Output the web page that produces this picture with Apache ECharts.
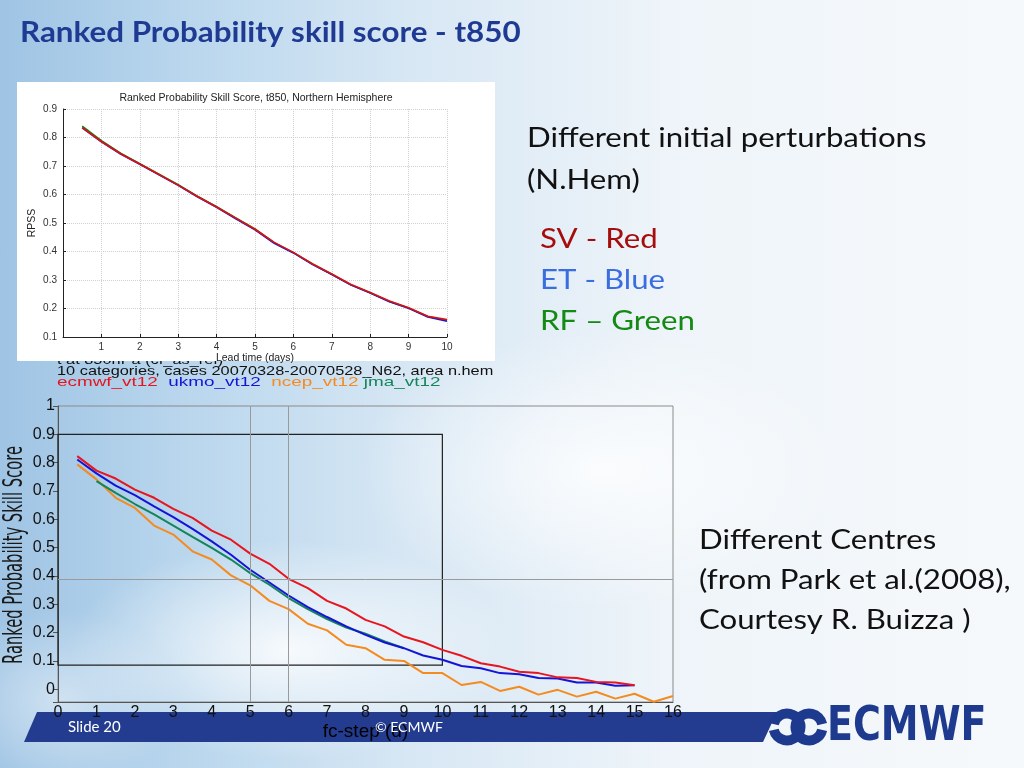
<!DOCTYPE html>
<html><head><meta charset="utf-8">
<script src="https://cdn.jsdelivr.net/npm/echarts@6/dist/echarts.min.js"></script>
<style>
html,body{margin:0;padding:0;width:1024px;height:768px;overflow:hidden;}
#c{width:1024px;height:768px;background:
 radial-gradient(ellipse 220px 110px at 290px 650px, rgba(255,255,255,0.85), rgba(255,255,255,0) 100%),
 radial-gradient(ellipse 240px 140px at 600px 470px, rgba(255,255,255,0.8), rgba(255,255,255,0) 100%),
 radial-gradient(ellipse 120px 90px at 60px 700px, rgba(255,255,255,0.45), rgba(255,255,255,0) 100%),
 linear-gradient(90deg,#9fc4e4 0%,#b9d6ed 18%,#d7e7f4 40%,#eef4f9 65%,#f6f9fb 100%);}
</style></head>
<body><div id="c"></div>
<script>
// ---- top chart (different initial perturbations) ----
const topLead = [0.5,1,1.5,2,2.5,3,3.5,4,4.5,5,5.5,6,6.5,7,7.5,8,8.5,9,9.5,10];
const topSV = [0.835,0.786,0.743,0.707,0.670,0.633,0.593,0.556,0.517,0.478,0.432,0.397,0.356,0.321,0.284,0.256,0.226,0.203,0.173,0.161];
const topET = [0.834,0.785,0.742,0.706,0.669,0.632,0.592,0.555,0.515,0.476,0.429,0.395,0.354,0.319,0.282,0.254,0.224,0.201,0.170,0.155];
const topRF = [0.840,0.789,0.745,0.708,0.671,0.634,0.594,0.557,0.518,0.479,0.431,0.396,0.356,0.320,0.283,0.255,0.225,0.202,0.172,0.158];

// ---- bottom chart (different centres) ----
const fcStep = [0.5,1,1.5,2,2.5,3,3.5,4,4.5,5,5.5,6,6.5,7,7.5,8,8.5,9,9.5,10,10.5,11,11.5,12,12.5,13,13.5,14,14.5,15,15.5,16];
const ecmwf = [0.823,0.772,0.744,0.705,0.676,0.637,0.605,0.560,0.528,0.479,0.443,0.390,0.357,0.312,0.285,0.245,0.222,0.186,0.166,0.139,0.118,0.092,0.080,0.062,0.057,0.042,0.040,0.026,0.024,0.014];
const ukmo  = [0.811,0.762,0.719,0.685,0.646,0.608,0.566,0.522,0.475,0.422,0.377,0.331,0.290,0.255,0.222,0.192,0.165,0.145,0.119,0.104,0.082,0.074,0.057,0.053,0.040,0.038,0.024,0.024,0.012,0.014];
const ncep  = [0.794,0.741,0.676,0.640,0.578,0.546,0.487,0.458,0.402,0.367,0.312,0.283,0.231,0.208,0.157,0.145,0.104,0.100,0.057,0.057,0.015,0.026,-0.006,0.009,-0.019,-0.002,-0.026,-0.009,-0.033,-0.016,-0.044,-0.024];
const jma   = [null,0.735,0.693,0.654,0.617,0.578,0.538,0.499,0.458,0.410,0.369,0.322,0.283,0.248,0.218,0.196,0.169,0.145];
const centreNames = ['ecmwf_vt12','ukmo_vt12','ncep_vt12','jma_vt12'];
const refVLines = [5,6];
const refHLine = 0.391;
const zoomBox = {x0:0, x1:10, y0:0.085, y1:0.9};

const pairs = (xs, ys) => ys.map((v,i)=>[xs[i], v]);
const chart = echarts.init(document.getElementById('c'), null, {renderer:'canvas'});
const helv = 'Liberation Sans, Arial, sans-serif';
const narrow = '"Liberation Sans Narrow", "DejaVu Sans Condensed", sans-serif';
const cal = 'Lato, "Open Sans", sans-serif';

const rt = (x, y, text, color) => ({type:'text', z:1, x:x, y:y, scaleX:1.2,
  style:{text:text, font:'26px '+cal, fill:color, textVerticalAlign:'middle'}});

const option = {
  backgroundColor: 'transparent',
  animation: false,
  grid: [
    {left:63, top:109, width:384, height:228, outerBoundsMode:'none', containLabel:false},
    {left:58, top:406, width:615, height:296, outerBoundsMode:'none', containLabel:false,
     show:true, borderColor:'#8a8a8a', borderWidth:1, backgroundColor:'transparent'}
  ],
  xAxis: [
    {type:'value', gridIndex:0, min:0, max:10, interval:1,
     axisLine:{onZero:false, lineStyle:{color:'#222', width:1}},
     axisTick:{inside:true, length:3, lineStyle:{color:'#222'}},
     axisLabel:{color:'#333', fontSize:10, fontFamily:helv, margin:5, formatter:v=>v===0?'':String(v)},
     splitLine:{show:true, lineStyle:{color:'#d0d0d0', type:'dotted'}},
     name:'Lead time (days)', nameLocation:'middle', nameGap:14,
     nameTextStyle:{color:'#222', fontSize:10.5, fontFamily:helv}},
    {type:'value', gridIndex:1, min:0, max:16, interval:1,
     axisLine:{onZero:false, lineStyle:{color:'#555', width:1}},
     axisTick:{show:false},
     axisLabel:{color:'#111', fontSize:16, fontFamily:helv, margin:3},
     splitLine:{show:false},
     name:'fc-step (d)', nameLocation:'middle', nameGap:16,
     nameTextStyle:{color:'#000', fontSize:19, fontFamily:helv}}
  ],
  yAxis: [
    {type:'value', gridIndex:0, min:0.1, max:0.9, interval:0.1,
     axisLine:{show:true, onZero:false, lineStyle:{color:'#222', width:1}},
     axisTick:{show:true, inside:true, length:3, lineStyle:{color:'#222'}},
     axisLabel:{color:'#333', fontSize:10, fontFamily:helv, margin:6, formatter:v=>v.toFixed(1)},
     splitLine:{show:true, lineStyle:{color:'#d0d0d0', type:'dotted'}},
     name:'RPSS', nameLocation:'middle', nameGap:25, nameRotate:90,
     nameTextStyle:{color:'#222', fontSize:10.5, fontFamily:helv}},
    {type:'value', gridIndex:1, min:-0.045, max:1, splitNumber:10, minInterval:0.1, maxInterval:0.1,
     axisLine:{show:true, onZero:false, lineStyle:{color:'#555', width:1}},
     axisTick:{show:true, length:5, lineStyle:{color:'#555'}},
     axisLabel:{color:'#111', fontSize:16, fontFamily:helv, margin:3,
       formatter:v=>{ if (v < -0.001) return ''; const r=Math.round(v*10)/10; return (r===0||r===1)?String(r):r.toFixed(1);} },
     splitLine:{show:false}}
  ],
  series: [
    {name:'RF', type:'line', xAxisIndex:0, yAxisIndex:0, data:pairs(topLead, topRF), showSymbol:false, lineStyle:{color:'#0a8a0a', width:1.6}, itemStyle:{color:'#0a8a0a'}},
    {name:'ET', type:'line', xAxisIndex:0, yAxisIndex:0, data:pairs(topLead, topET), showSymbol:false, lineStyle:{color:'#1a1ad0', width:1.6}, itemStyle:{color:'#1a1ad0'}},
    {name:'SV', type:'line', xAxisIndex:0, yAxisIndex:0, data:pairs(topLead, topSV), showSymbol:false, lineStyle:{color:'#e01010', width:1.6}, itemStyle:{color:'#e01010'}},
    {name:centreNames[2], type:'line', xAxisIndex:1, yAxisIndex:1, data:pairs(fcStep, ncep), showSymbol:false, clip:false,
     lineStyle:{color:'#f58a1f', width:2}, itemStyle:{color:'#f58a1f'},
     markLine:{silent:true, symbol:['none','none'], label:{show:false}, lineStyle:{color:'#9a9a9a', type:'solid', width:1},
       data:[{xAxis:refVLines[0]},{xAxis:refVLines[1]},{yAxis:refHLine}]},
     markArea:{silent:true, itemStyle:{color:'rgba(0,0,0,0)', borderColor:'#222', borderWidth:1.2}, label:{show:false},
       data:[[{xAxis:zoomBox.x0, yAxis:zoomBox.y1},{xAxis:zoomBox.x1, yAxis:zoomBox.y0}]]}},
    {name:centreNames[3], type:'line', xAxisIndex:1, yAxisIndex:1, data:pairs(fcStep, jma), showSymbol:false, connectNulls:false,
     lineStyle:{color:'#14855a', width:2}, itemStyle:{color:'#14855a'}},
    {name:centreNames[1], type:'line', xAxisIndex:1, yAxisIndex:1, data:pairs(fcStep, ukmo), showSymbol:false,
     lineStyle:{color:'#1414d8', width:2}, itemStyle:{color:'#1414d8'}},
    {name:centreNames[0], type:'line', xAxisIndex:1, yAxisIndex:1, data:pairs(fcStep, ecmwf), showSymbol:false,
     lineStyle:{color:'#e8141e', width:2}, itemStyle:{color:'#e8141e'}}
  ],
  graphic: [
    // header texts of lower figure (partly hidden by upper figure)
    {type:'text', z:-3, x:57, y:367, scaleX:1.09, scaleY:0.8, style:{text:'t at 850hPa (cf_as_ref)', font:'15px '+helv, fill:'#111', textVerticalAlign:'bottom'}},
    {type:'text', z:-3, x:57, y:377.5, scaleX:1.09, scaleY:0.8, style:{text:'10 categories, cases 20070328-20070528_N62, area n.hem', font:'15px '+helv, fill:'#111', textVerticalAlign:'bottom'}},
    {type:'text', z:-3, x:57, y:389, scaleX:1.26, scaleY:0.85, style:{text:'{a|'+centreNames[0]+'}  {b|'+centreNames[1]+'}  {c|'+centreNames[2]+'} {d|'+centreNames[3]+'}',
      font:'15px '+helv, textVerticalAlign:'bottom',
      rich:{a:{fill:'#e8141e', font:'15px '+helv}, b:{fill:'#1414d8', font:'15px '+helv}, c:{fill:'#f58a1f', font:'15px '+helv}, d:{fill:'#14855a', font:'15px '+helv}}}},
    // white panel behind upper figure
    {type:'rect', z:-2, shape:{x:17, y:82, width:478, height:279}, style:{fill:'#ffffff'}},
    {type:'text', z:1, x:256, y:98, style:{text:'Ranked Probability Skill Score, t850, Northern Hemisphere', font:'10.5px '+helv, fill:'#222', textAlign:'center', textVerticalAlign:'middle'}},
    // y-axis title of lower figure (condensed)
    {type:'text', z:1, x:15, y:555, rotation:Math.PI/2, scaleX:0.63,
     style:{text:'Ranked Probability Skill Score', font:'26px '+narrow, fill:'#1a1a1a', textAlign:'center', textVerticalAlign:'middle'}},
    // footer band
    {type:'polygon', z:-1, shape:{points:[[37,712],[777,712],[763,742],[24,742]]}, style:{fill:'#233c90'}},
    {type:'text', z:1, x:68, y:727, style:{text:'Slide 20', font:'15px '+cal, fill:'#ffffff', textVerticalAlign:'middle'}},
    {type:'text', z:1, x:375, y:727, style:{text:'© ECMWF', font:'14px '+cal, fill:'#ffffff', textVerticalAlign:'middle'}},
    // ECMWF logo
    {type:'arc', z:1, shape:{cx:787, cy:727, r:13.5, startAngle:Math.PI+0.22, endAngle:Math.PI*3-0.22, clockwise:true}, style:{stroke:'#1e3a8f', lineWidth:10, fill:null}},
    {type:'arc', z:1, shape:{cx:809, cy:727, r:13.5, startAngle:0.22, endAngle:Math.PI*2-0.22, clockwise:true}, style:{stroke:'#1e3a8f', lineWidth:10, fill:null}},
    {type:'text', z:1, x:827, y:728, scaleX:0.88, style:{text:'ECMWF', font:'bold 48px '+narrow, fill:'#1e3a8f', textVerticalAlign:'middle'}},
    // slide title
    {type:'text', z:1, x:20, y:33, scaleX:1.12, style:{text:'Ranked Probability skill score - t850', font:'bold 28px '+cal, fill:'#1f3a93', textVerticalAlign:'middle'}},
    // right-hand texts
    rt(527, 139, 'Different initial perturbations', '#111'),
    rt(527, 181, '(N.Hem)', '#111'),
    rt(540, 240, 'SV - Red', '#a50d0d'),
    rt(540, 281, 'ET - Blue', '#3a6de0'),
    rt(540, 322, 'RF – Green', '#148a14'),
    rt(699, 541, 'Different Centres', '#111'),
    rt(699, 581, '(from Park et al.(2008),', '#111'),
    rt(699, 621, 'Courtesy R. Buizza )', '#111')
  ]
};
chart.setOption(option);
</script>
</body></html>
